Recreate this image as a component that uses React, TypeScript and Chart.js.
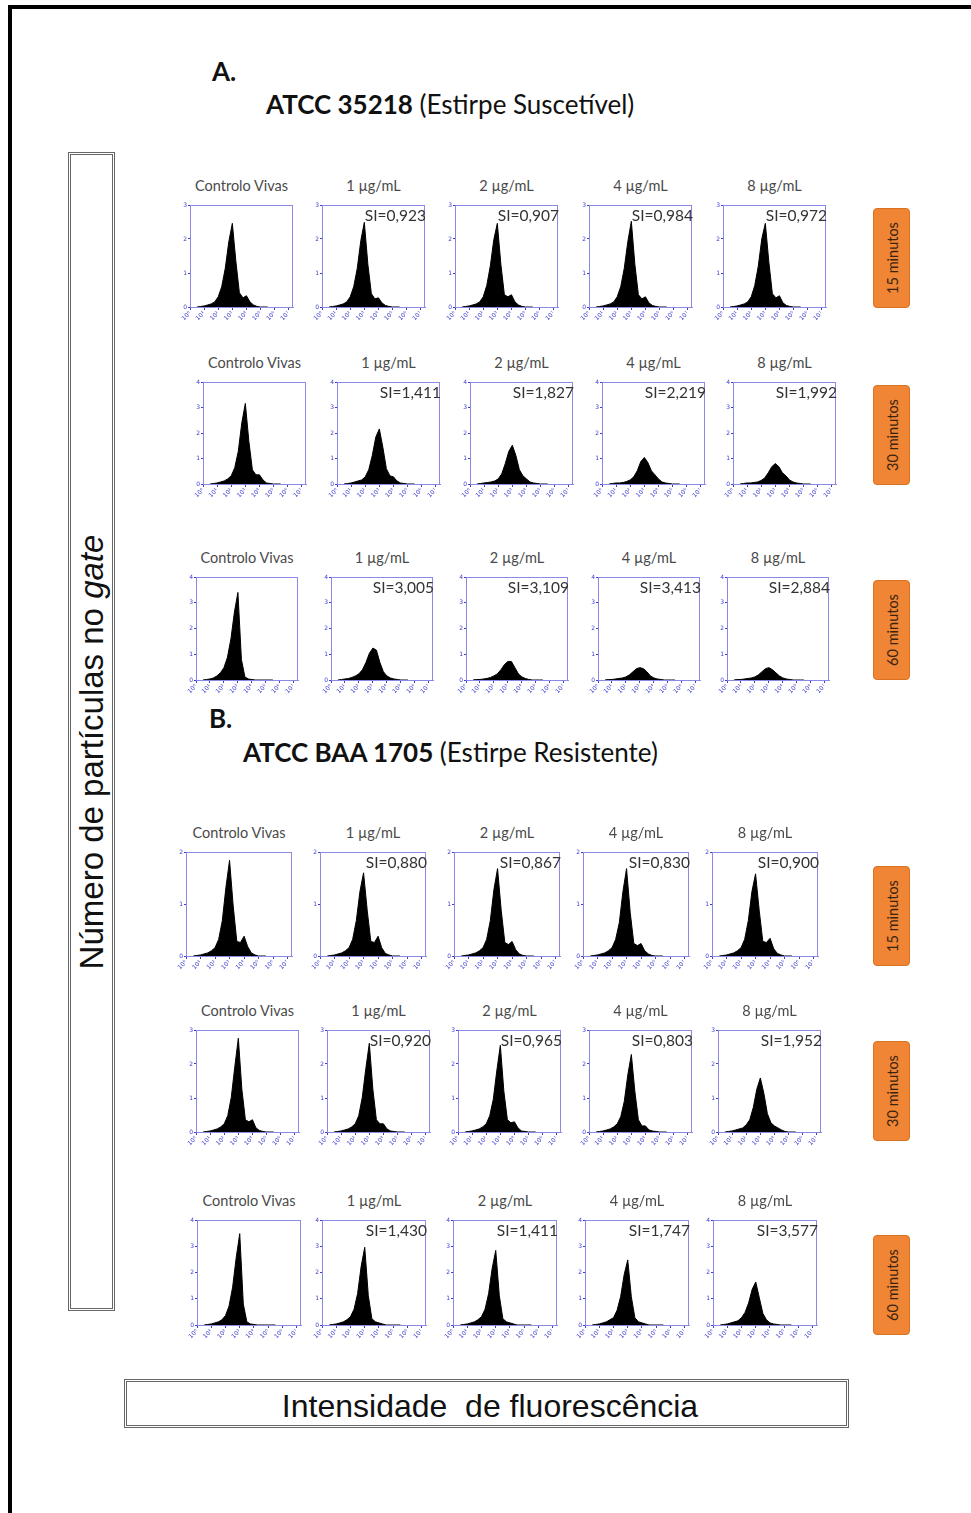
import React, { useEffect, useRef } from "react";
import { Chart, registerables } from "chart.js";

Chart.register(...registerables);

// ---------------- DATA ----------------
// fluorescence bins (log decades) where histogram heights were read
const BINS = [0.5, 0.75, 1, 1.25, 1.5, 1.75, 2, 2.25, 2.5, 2.75, 3, 3.25, 3.5, 3.75, 4, 4.25, 4.5, 4.75, 5, 5.25, 5.5];
const X_TICKS = [0, 1, 2, 3, 4, 5, 6, 7];
const X_TICK_LABELS = ["10⁰", "10¹", "10²", "10³", "10⁴", "10⁵", "10⁶", "10⁷"];
const DOSES = ["Controlo Vivas", "1 µg/mL", "2 µg/mL", "4 µg/mL", "8 µg/mL"];
const TIMES = ["15 minutos", "30 minutos", "60 minutos"];

// % of axis height, one array per panel (Controlo, 1, 2, 4, 8 µg/mL)
const A15 = [
  [0, 0.5, 1, 2, 3, 5, 10, 20, 38, 64, 82, 45, 14, 9, 11, 5, 2, 0.5, 0, 0, 0],
  [0, 0.5, 1, 2, 3, 5, 10, 20, 38, 65, 83, 42, 13, 8, 9, 4, 1.5, 0.5, 0, 0, 0],
  [0, 0.5, 1, 2, 3, 5, 10, 21, 40, 66, 82, 42, 12, 10, 12, 5, 2, 0.5, 0, 0, 0],
  [0, 0.5, 1, 2, 3, 5, 10, 20, 38, 64, 84, 42, 12, 8, 10, 4, 1.5, 0.5, 0, 0, 0],
  [0, 0.5, 1, 2, 3, 5, 10, 21, 40, 67, 82, 44, 13, 9, 11, 4, 1.5, 0.5, 0, 0, 0],
];
const A30 = [
  [0, 0.5, 1, 2, 3, 5, 8, 16, 32, 60, 79, 42, 14, 9, 9, 4, 1, 0.5, 0, 0, 0],
  [0, 0.5, 1, 2, 3, 4, 7, 14, 28, 46, 54, 36, 15, 8, 7, 3, 1, 0.5, 0, 0, 0],
  [0, 0.5, 1, 1.5, 2, 3, 5, 10, 20, 32, 38, 28, 14, 8, 5, 2, 1, 0.5, 0, 0, 0],
  [0, 0.5, 1, 1, 1.5, 2.5, 4, 7, 13, 22, 26, 21, 13, 9, 5, 2, 1, 0.5, 0, 0, 0],
  [0, 0.5, 1, 1, 1.5, 2, 3.5, 6, 11, 17, 20, 17, 11, 8, 4, 2, 1, 0.5, 0, 0, 0],
];
const A60 = [
  [0, 0.5, 1, 2, 4, 7, 12, 22, 40, 66, 85, 20, 3, 1, 0.5, 0, 0, 0, 0, 0, 0],
  [0, 0.5, 1, 1.5, 2.5, 4, 6, 10, 17, 26, 31, 29, 17, 8, 4, 2, 1, 0.5, 0, 0, 0],
  [0, 0.5, 0.5, 1, 1.5, 2.5, 4, 6, 10, 15, 18, 18, 12, 6, 3, 1.5, 0.5, 0, 0, 0, 0],
  [0, 0.5, 0.5, 1, 1.5, 2, 3, 5, 8, 11, 12, 11, 8, 4, 2, 1, 0.5, 0, 0, 0, 0],
  [0, 0.5, 0.5, 1, 1.5, 2, 3, 5, 8, 11, 12, 10, 7, 4, 2, 1, 0.5, 0, 0, 0, 0],
];
const B15 = [
  [0, 0.5, 1, 2, 3, 5, 8, 16, 34, 66, 92, 48, 14, 13, 19, 9, 3, 1, 0, 0, 0],
  [0, 0.5, 1, 2, 3, 5, 8, 16, 34, 62, 80, 44, 14, 13, 19, 8, 2.5, 1, 0, 0, 0],
  [0, 0.5, 1, 2, 3, 5, 8, 16, 34, 64, 84, 44, 13, 11, 14, 6, 2, 0.5, 0, 0, 0],
  [0, 0.5, 1, 2, 3, 5, 8, 16, 32, 62, 84, 42, 12, 10, 12, 5, 2, 0.5, 0, 0, 0],
  [0, 0.5, 1, 2, 3, 5, 8, 16, 34, 62, 79, 44, 14, 13, 17, 7, 2.5, 1, 0, 0, 0],
];
const B30 = [
  [0, 0.5, 1, 2, 3, 5, 8, 16, 34, 64, 92, 42, 12, 10, 12, 4, 1.5, 0.5, 0, 0, 0],
  [0, 0.5, 1, 2, 3, 5, 8, 16, 34, 62, 87, 42, 12, 8, 8, 3, 1, 0.5, 0, 0, 0],
  [0, 0.5, 1, 2, 3, 5, 8, 16, 32, 60, 85, 40, 12, 9, 10, 4, 1, 0.5, 0, 0, 0],
  [0, 0.5, 1, 2, 3, 5, 8, 15, 30, 56, 76, 40, 12, 6, 6, 2, 1, 0.5, 0, 0, 0],
  [0, 0.5, 1, 2, 3, 4, 7, 12, 24, 42, 53, 38, 18, 9, 6, 4, 2, 0.5, 0, 0, 0],
];
const B60 = [
  [0, 0.5, 1, 2, 3, 5, 9, 18, 36, 64, 87, 20, 3, 1, 0.5, 0, 0, 0, 0, 0, 0],
  [0, 0.5, 1, 2, 3, 5, 8, 15, 30, 56, 74, 28, 6, 3, 2, 1, 0, 0, 0, 0, 0],
  [0, 0.5, 1, 2, 3, 5, 8, 15, 30, 54, 71, 28, 6, 3, 2, 1, 0, 0, 0, 0, 0],
  [0, 0.5, 1, 2, 3, 5, 7, 14, 27, 48, 62, 27, 7, 3, 2, 1, 0, 0, 0, 0, 0],
  [0, 0.5, 1, 2, 3, 4, 7, 12, 21, 34, 41, 26, 11, 5, 2, 1, 0.5, 0, 0, 0, 0],
];

const SI_A15 = ["", "SI=0,923", "SI=0,907", "SI=0,984", "SI=0,972"];
const SI_A30 = ["", "SI=1,411", "SI=1,827", "SI=2,219", "SI=1,992"];
const SI_A60 = ["", "SI=3,005", "SI=3,109", "SI=3,413", "SI=2,884"];
const SI_B15 = ["", "SI=0,880", "SI=0,867", "SI=0,830", "SI=0,900"];
const SI_B30 = ["", "SI=0,920", "SI=0,965", "SI=0,803", "SI=1,952"];
const SI_B60 = ["", "SI=1,430", "SI=1,411", "SI=1,747", "SI=3,577"];

// number of y-axis ticks shown in each row
const Y_TICK_COUNTS = [4, 5, 5, 3, 4, 5];

// ---------------- LAYOUT ----------------
const ROWS = [
  { top: 205, h: 102, w: 103, lefts: [190, 322, 455, 589, 723], values: A15, si: SI_A15 },
  { top: 382, h: 102, w: 103, lefts: [203, 337, 470, 602, 733], values: A30, si: SI_A30 },
  { top: 577, h: 103, w: 102, lefts: [196, 331, 466, 598, 727], values: A60, si: SI_A60 },
  { top: 852, h: 104, w: 106, lefts: [186, 320, 454, 583, 712], values: B15, si: SI_B15 },
  { top: 1030, h: 102, w: 103, lefts: [196, 327, 458, 589, 718], values: B30, si: SI_B30 },
  { top: 1220, h: 105, w: 104, lefts: [197, 322, 453, 585, 713], values: B60, si: SI_B60 },
];

const BOX_BLUE = "#8a8ae6";
const TICK_BLUE = "#3c3cd2";
const YW = 12;
const XH = 14;
const PT = 4;
const PR = 4;

const boxPlugin = {
  id: "boxFrame",
  afterDraw(chart: any) {
    const { ctx, chartArea } = chart;
    ctx.save();
    ctx.strokeStyle = BOX_BLUE;
    ctx.lineWidth = 1;
    ctx.strokeRect(chartArea.left + 0.5, chartArea.top + 0.5, chartArea.right - chartArea.left - 1, chartArea.bottom - chartArea.top);
    ctx.restore();
  },
};

function Histo(props: { left: number; top: number; w: number; h: number; values: number[]; yCount: number }) {
  const { left, top, w, h, values, yCount } = props;
  const ref = useRef<HTMLCanvasElement>(null);
  useEffect(() => {
    const step = 100 / (yCount - 1);
    const yTickVals: number[] = [];
    for (let i = 0; i < yCount; i++) yTickVals.push(i * step);
    const chart = new Chart(ref.current as HTMLCanvasElement, {
      type: "line",
      data: {
        datasets: [
          {
            data: BINS.map((x, i) => ({ x, y: values[i] })),
            fill: "origin",
            backgroundColor: "#000000",
            borderColor: "#000000",
            borderWidth: 1,
            pointRadius: 0,
            tension: 0,
          },
        ],
      },
      options: {
        responsive: false,
        animation: false,
        events: [],
        layout: { padding: { top: PT, right: PR, left: 0, bottom: 0 } },
        plugins: { legend: { display: false }, tooltip: { enabled: false }, title: { display: false } },
        scales: {
          x: {
            type: "linear",
            min: 0,
            max: 7.3,
            afterBuildTicks: (s: any) => {
              s.ticks = X_TICKS.map((v) => ({ value: v }));
            },
            afterFit: (s: any) => {
              s.height = XH;
              s.paddingLeft = 0;
              s.paddingRight = 0;
            },
            ticks: {
              autoSkip: false,
              minRotation: 45,
              maxRotation: 45,
              padding: 0,
              color: TICK_BLUE,
              font: { size: 6, family: "DejaVu Sans" },
              callback: (_v: any, i: number) => X_TICK_LABELS[i],
            },
            grid: { drawOnChartArea: false, color: TICK_BLUE, tickLength: 3, lineWidth: 1 },
            border: { display: true, color: BOX_BLUE, width: 1 },
          },
          y: {
            type: "linear",
            min: 0,
            max: 100,
            afterBuildTicks: (s: any) => {
              s.ticks = yTickVals.map((v) => ({ value: v }));
            },
            afterFit: (s: any) => {
              s.width = YW;
              s.paddingTop = 0;
              s.paddingBottom = 0;
            },
            ticks: {
              padding: 1,
              color: TICK_BLUE,
              font: { size: 6, family: "DejaVu Sans" },
              callback: (_v: any, i: number) => String(i),
            },
            grid: { drawOnChartArea: false, color: TICK_BLUE, tickLength: 2, lineWidth: 1 },
            border: { display: true, color: BOX_BLUE, width: 1 },
          },
        },
      } as any,
      plugins: [boxPlugin],
    });
    return () => chart.destroy();
  }, []);
  return (
    <canvas
      ref={ref}
      width={w + YW + PR}
      height={h + XH + PT}
      style={{ position: "absolute", left: left - YW, top: top - PT, width: w + YW + PR, height: h + XH + PT }}
    />
  );
}

const abs = (s: React.CSSProperties): React.CSSProperties => ({ position: "absolute", ...s });

function Badge({ top, text }: { top: number; text: string }) {
  return (
    <div
      style={abs({
        left: 873,
        top,
        width: 37,
        height: 100,
        background: "#ef8535",
        border: "1px solid #d8721f",
        borderRadius: 4,
        boxSizing: "border-box",
      })}
    >
      <div
        style={abs({
          left: "50%",
          top: "50%",
          transform: "translate(-50%, -50%) rotate(-90deg)",
          whiteSpace: "nowrap",
          fontFamily: "Lato, 'Open Sans', sans-serif",
          fontSize: 14.5,
          color: "#3a2410",
        })}
      >
        {text}
      </div>
    </div>
  );
}

const BADGE_TOPS = [208, 385, 580, 866, 1041, 1235];

export default function App() {
  return (
    <div style={abs({ left: 0, top: 0, width: 971, height: 1513, overflow: "hidden", background: "#fff" })}>
      {/* outer frame */}
      <div style={abs({ left: 8, top: 5, width: 963, height: 4, background: "#000" })} />
      <div style={abs({ left: 8, top: 5, width: 4, height: 1508, background: "#000" })} />

      {/* headings */}
      <div style={abs({ left: 212, top: 55, fontFamily: "Lato, sans-serif", fontWeight: 700, fontSize: 26, color: "#111" })}>A.</div>
      <div style={abs({ left: 266, top: 88, fontFamily: "Lato, sans-serif", fontSize: 26, color: "#111", whiteSpace: "nowrap" })}>
        <b>ATCC 35218</b> (Estirpe Suscetível)
      </div>
      <div style={abs({ left: 209, top: 702, fontFamily: "Lato, sans-serif", fontWeight: 700, fontSize: 26, color: "#111" })}>B.</div>
      <div style={abs({ left: 243, top: 736, fontFamily: "Lato, sans-serif", fontSize: 26, color: "#111", whiteSpace: "nowrap" })}>
        <b>ATCC BAA 1705</b> (Estirpe Resistente)
      </div>

      {/* y-axis label box */}
      <div style={abs({ left: 68, top: 152, width: 47, height: 1159, border: "3px double #666", boxSizing: "border-box" })} />
      <div
        style={abs({
          left: 92,
          top: 752,
          transform: "translate(-50%, -50%) rotate(-90deg)",
          whiteSpace: "nowrap",
          fontFamily: "'Liberation Sans', Arial, sans-serif",
          fontSize: 33,
          color: "#111",
        })}
      >
        Número de partículas no <i>gate</i>
      </div>

      {/* x-axis label box */}
      <div style={abs({ left: 124, top: 1379, width: 725, height: 49, border: "3px double #666", boxSizing: "border-box" })} />
      <div
        style={abs({
          left: 490,
          top: 1406,
          transform: "translate(-50%, -50%)",
          whiteSpace: "pre",
          fontFamily: "'Liberation Sans', Arial, sans-serif",
          fontSize: 32,
          color: "#111",
        })}
      >
        {"Intensidade  de fluorescência"}
      </div>

      {/* badges */}
      {BADGE_TOPS.map((t, i) => (
        <Badge key={"b" + i} top={t} text={TIMES[i % 3]} />
      ))}

      {/* panels */}
      {ROWS.map((row, r) =>
        row.lefts.map((lx, c) => (
          <React.Fragment key={r + "-" + c}>
            <div
              style={abs({
                left: lx - 20,
                width: row.w + 40,
                top: row.top - 28,
                textAlign: "center",
                fontFamily: "Lato, 'Open Sans', sans-serif",
                fontSize: 14.5,
                color: "#4a4a4a",
                whiteSpace: "nowrap",
              })}
            >
              {DOSES[c]}
            </div>
            <Histo left={lx} top={row.top} w={row.w} h={row.h} values={row.values[c]} yCount={Y_TICK_COUNTS[r]} />
            {row.si[c] ? (
              <div
                style={abs({
                  left: lx + row.w - 92,
                  width: 93,
                  top: row.top + 1,
                  textAlign: "right",
                  fontFamily: "Lato, 'Open Sans', sans-serif",
                  fontSize: 15.5,
                  color: "#333",
                  whiteSpace: "nowrap",
                })}
              >
                {row.si[c]}
              </div>
            ) : null}
          </React.Fragment>
        ))
      )}
    </div>
  );
}
